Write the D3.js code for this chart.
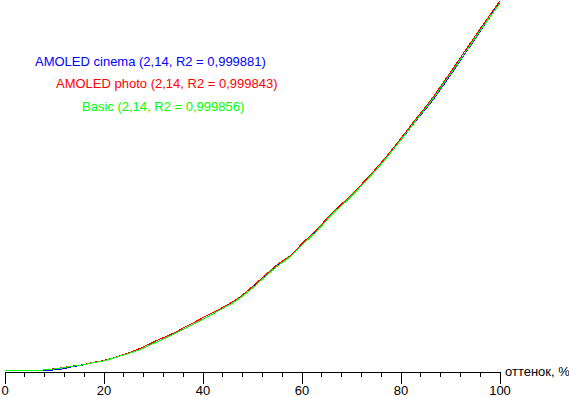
<!DOCTYPE html>
<html>
<head>
<meta charset="utf-8">
<script src="https://cdn.jsdelivr.net/npm/d3@7"></script>
<style>
html, body { margin: 0; padding: 0; background: #fff; }
svg { display: block; }
text { font-family: Arial, "Liberation Sans", sans-serif; }
</style>
</head>
<body>
<svg id="chart" width="569" height="397"></svg>
<script>
// Shade levels (%)
const levels = [0, 4, 7, 8, 10, 12, 14, 16, 17.3, 20, 23.3, 27.4, 30.7, 34.1, 37.5, 40.8, 44.2, 46.9, 48.9, 52.3, 55.3, 57.7, 60.4, 63.1, 65.8, 69.2, 72.5, 76.9, 79.9, 82.6, 86.3, 89.3, 91.7, 96.1, 100];

// Relative brightness (%) per mode
const cinema = [0, 0, 0, 0.05, 0.15, 0.5, 1.1, 1.5, 2.0, 2.6, 3.9, 5.7, 7.7, 9.8, 12.1, 14.4, 16.9, 19.0, 21.0, 25.1, 28.6, 30.9, 34.5, 37.9, 41.9, 46.2, 50.7, 57.3, 62.2, 66.8, 72.9, 78.5, 83.2, 91.9, 99.6];
const photo  = [0, 0, 0, 0.2, 0.45, 0.85, 1.25, 1.6, 2.05, 2.7, 4.0, 6.0, 8.1, 10.1, 12.5, 14.8, 17.2, 19.3, 21.4, 25.4, 28.9, 31.1, 34.8, 38.2, 42.2, 46.5, 51.0, 57.6, 62.6, 67.3, 73.6, 79.3, 84.0, 92.6, 100];
const basic  = [0, 0, 0, 0.2, 0.4, 0.8, 1.2, 1.55, 2.0, 2.6, 3.9, 5.7, 7.7, 9.8, 12.1, 14.4, 16.9, 19.0, 21.0, 25.0, 28.5, 30.8, 34.4, 37.8, 41.8, 46.1, 50.6, 57.2, 62.2, 66.9, 73.2, 78.9, 83.5, 92.1, 99.4];

const seriesLabels = ["AMOLED cinema (2,14, R2 = 0,999881)", "AMOLED photo (2,14, R2 = 0,999843)", "Basic (2,14, R2 = 0,999856)"];
const seriesColors = ["#0000ff", "#ff0000", "#00ff00"];
const majorTicks = [0, 20, 40, 60, 80, 100];
const minorTicks = d3.range(0, 101, 4);
const axisTitle = "оттенок, %";

const svg = d3.select("#chart");
const x = d3.scaleLinear().domain([0, 100]).range([4.5, 499.5]);
const y = d3.scaleLinear().domain([0, 100]).range([370.5, 1.5]);
const axisY = 371.5;

// Axis: minor ticks
svg.append("g")
  .attr("transform", `translate(0,${axisY})`)
  .call(d3.axisBottom(x).tickValues(minorTicks).tickSize(5).tickFormat(""))
  .call(g => g.select(".domain").remove())
  .call(g => g.selectAll("line").attr("stroke", "#000").attr("shape-rendering", "crispEdges"));

// Axis: major ticks with labels
svg.append("g")
  .attr("transform", `translate(0,${axisY})`)
  .call(d3.axisBottom(x).tickValues(majorTicks).tickSize(12).tickSizeOuter(0))
  .call(g => g.select(".domain").attr("stroke", "#000").attr("shape-rendering", "crispEdges"))
  .call(g => g.selectAll("line").attr("stroke", "#000").attr("shape-rendering", "crispEdges"))
  .call(g => g.selectAll("text").attr("font-size", 13).attr("fill", "#000")
     .attr("font-family", "Arial, 'Liberation Sans', sans-serif").attr("dy", "0").attr("y", 23.5));

svg.append("text")
  .attr("x", 505).attr("y", 376)
  .attr("font-size", 13).attr("fill", "#000")
  .text(axisTitle);

// Curves
const data = [cinema, photo, basic];
const line = d3.line().curve(d3.curveMonotoneX).x(d => x(d[0])).y(d => y(d[1]));
data.forEach((vals, i) => {
  const pts = levels.map((lv, j) => [lv, vals[j]]);
  svg.append("path")
    .datum(pts)
    .attr("fill", "none")
    .attr("stroke", seriesColors[i])
    .attr("stroke-width", 1)
    .attr("shape-rendering", "crispEdges")
    .attr("d", line);
});

// Legend
const legendPos = [[35, 66], [56, 88], [82, 111]];
seriesLabels.forEach((t, i) => {
  svg.append("text")
    .attr("x", legendPos[i][0]).attr("y", legendPos[i][1])
    .attr("font-size", 13).attr("fill", seriesColors[i])
    .text(t);
});
</script>
</body>
</html>
